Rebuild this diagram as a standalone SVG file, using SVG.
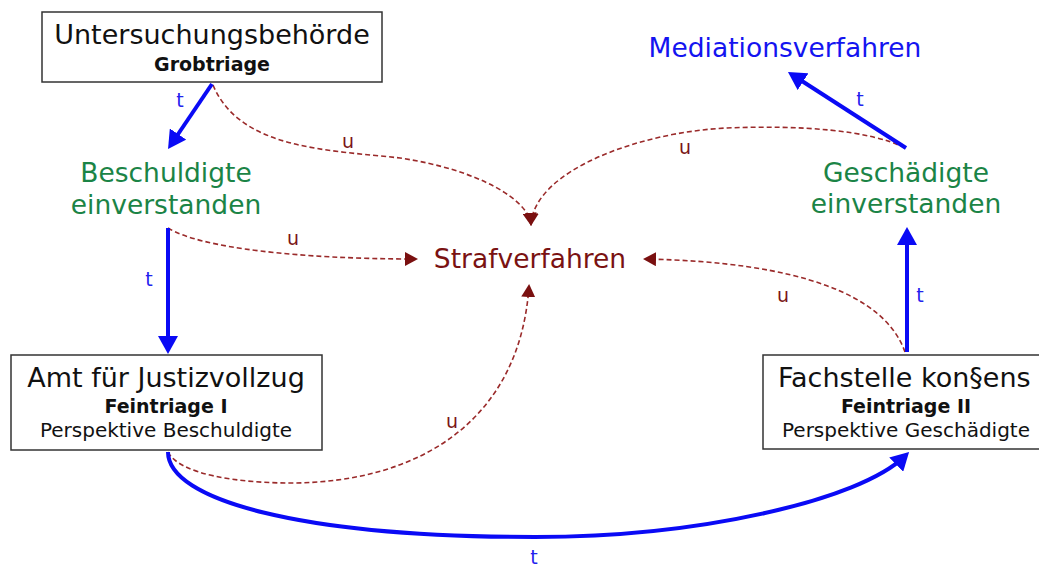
<svg xmlns="http://www.w3.org/2000/svg" width="1039" height="566" viewBox="0 0 1039 566">
<style>
text { font-family: "DejaVu Sans", Verdana, "Liberation Sans", sans-serif; text-anchor: middle; }
.box { fill: #ffffff; stroke: #333333; stroke-width: 1.5; }
.h { font-size: 27px; fill: #111111; }
.b { font-size: 19px; font-weight: bold; fill: #111111; }
.p { font-size: 20px; fill: #111111; }
.green { font-size: 26.5px; fill: #1b8446; }
.blue { font-size: 26.5px; fill: #1414f0; }
.red { font-size: 26.5px; fill: #7a1212; }
.t { font-size: 19px; fill: #2222ee; }
.u { font-size: 19px; fill: #7a1515; }
.tl { fill: none; stroke: #0a0af5; stroke-width: 4; }
.ul { fill: none; stroke: #9a2a2a; stroke-width: 1.6; stroke-dasharray: 5 3; }
</style>
<defs>
<marker id="ab" markerUnits="userSpaceOnUse" markerWidth="20" markerHeight="20" refX="12" refY="10" orient="auto" viewBox="0 0 20 20">
<path d="M0,0 L18,10 L0,20 z" fill="#0a0af5"/>
</marker>
<marker id="ar" markerUnits="userSpaceOnUse" markerWidth="14" markerHeight="14" refX="11" refY="7" orient="auto" viewBox="0 0 14 14">
<path d="M0,0 L13,7 L0,14 z" fill="#7a1010"/>
</marker>
</defs>

<g id="connectors">
<path class="ul" d="M213,85 C240,150 330,150 400,158 C480,170 528,200 531,224" marker-end="url(#ar)"/>
<path class="ul" d="M905,148 C870,130 800,125 727,128 C640,132 535,170 531,224" marker-end="url(#ar)"/>
<path class="ul" d="M168,228 C200,248 300,259 416,259" marker-end="url(#ar)"/>
<path class="ul" d="M905,352 C885,295 800,262 645,259" marker-end="url(#ar)"/>
<path class="ul" d="M168,452 C180,475 240,483 290,483 C420,483 520,420 529,286" marker-end="url(#ar)"/>
<path class="tl" d="M212,84 L171.4,144" marker-end="url(#ab)"/>
<path class="tl" d="M168,228 L168,348" marker-end="url(#ab)"/>
<path class="tl" d="M907,352 L907,233" marker-end="url(#ab)"/>
<path class="tl" d="M906,148 L793,75.2" marker-end="url(#ab)"/>
<path class="tl" d="M168,452 C168,500 300,537 535,537 C700,537 860,500 904.8,456.2" marker-end="url(#ab)"/>
<text class="t" x="180" y="107">t</text>
<text class="t" x="149" y="286">t</text>
<text class="t" x="920" y="302">t</text>
<text class="t" x="860" y="106">t</text>
<text class="t" x="534" y="564">t</text>
<text class="u" x="348" y="148">u</text>
<text class="u" x="293" y="245">u</text>
<text class="u" x="685" y="154">u</text>
<text class="u" x="783" y="302">u</text>
<text class="u" x="452" y="428">u</text>
</g>

<g id="untersuchungsbehoerde">
<rect class="box" x="42" y="12" width="340" height="70"/>
<text class="h" x="212" y="44">Untersuchungsbehörde</text>
<text class="b" x="212" y="71">Grobtriage</text>
</g>

<g id="beschuldigte">
<text class="green" x="166" y="182">Beschuldigte</text>
<text class="green" x="166" y="214">einverstanden</text>
</g>

<g id="strafverfahren">
<text class="red" x="530" y="268">Strafverfahren</text>
</g>

<g id="mediationsverfahren">
<text class="blue" x="785" y="57">Mediationsverfahren</text>
</g>

<g id="geschaedigte">
<text class="green" x="906" y="182">Geschädigte</text>
<text class="green" x="906" y="213">einverstanden</text>
</g>

<g id="amt">
<rect class="box" x="11" y="355" width="311" height="95"/>
<text class="h" x="166" y="387">Amt für Justizvollzug</text>
<text class="b" x="166" y="413">Feintriage I</text>
<text class="p" x="166" y="437">Perspektive Beschuldigte</text>
</g>

<g id="fachstelle">
<rect class="box" x="763" y="355" width="290" height="94"/>
<text class="h" x="778" y="387" style="text-anchor:start">Fachstelle kon§ens</text>
<text class="b" x="906" y="413">Feintriage II</text>
<text class="p" x="906" y="437">Perspektive Geschädigte</text>
</g>
</svg>
